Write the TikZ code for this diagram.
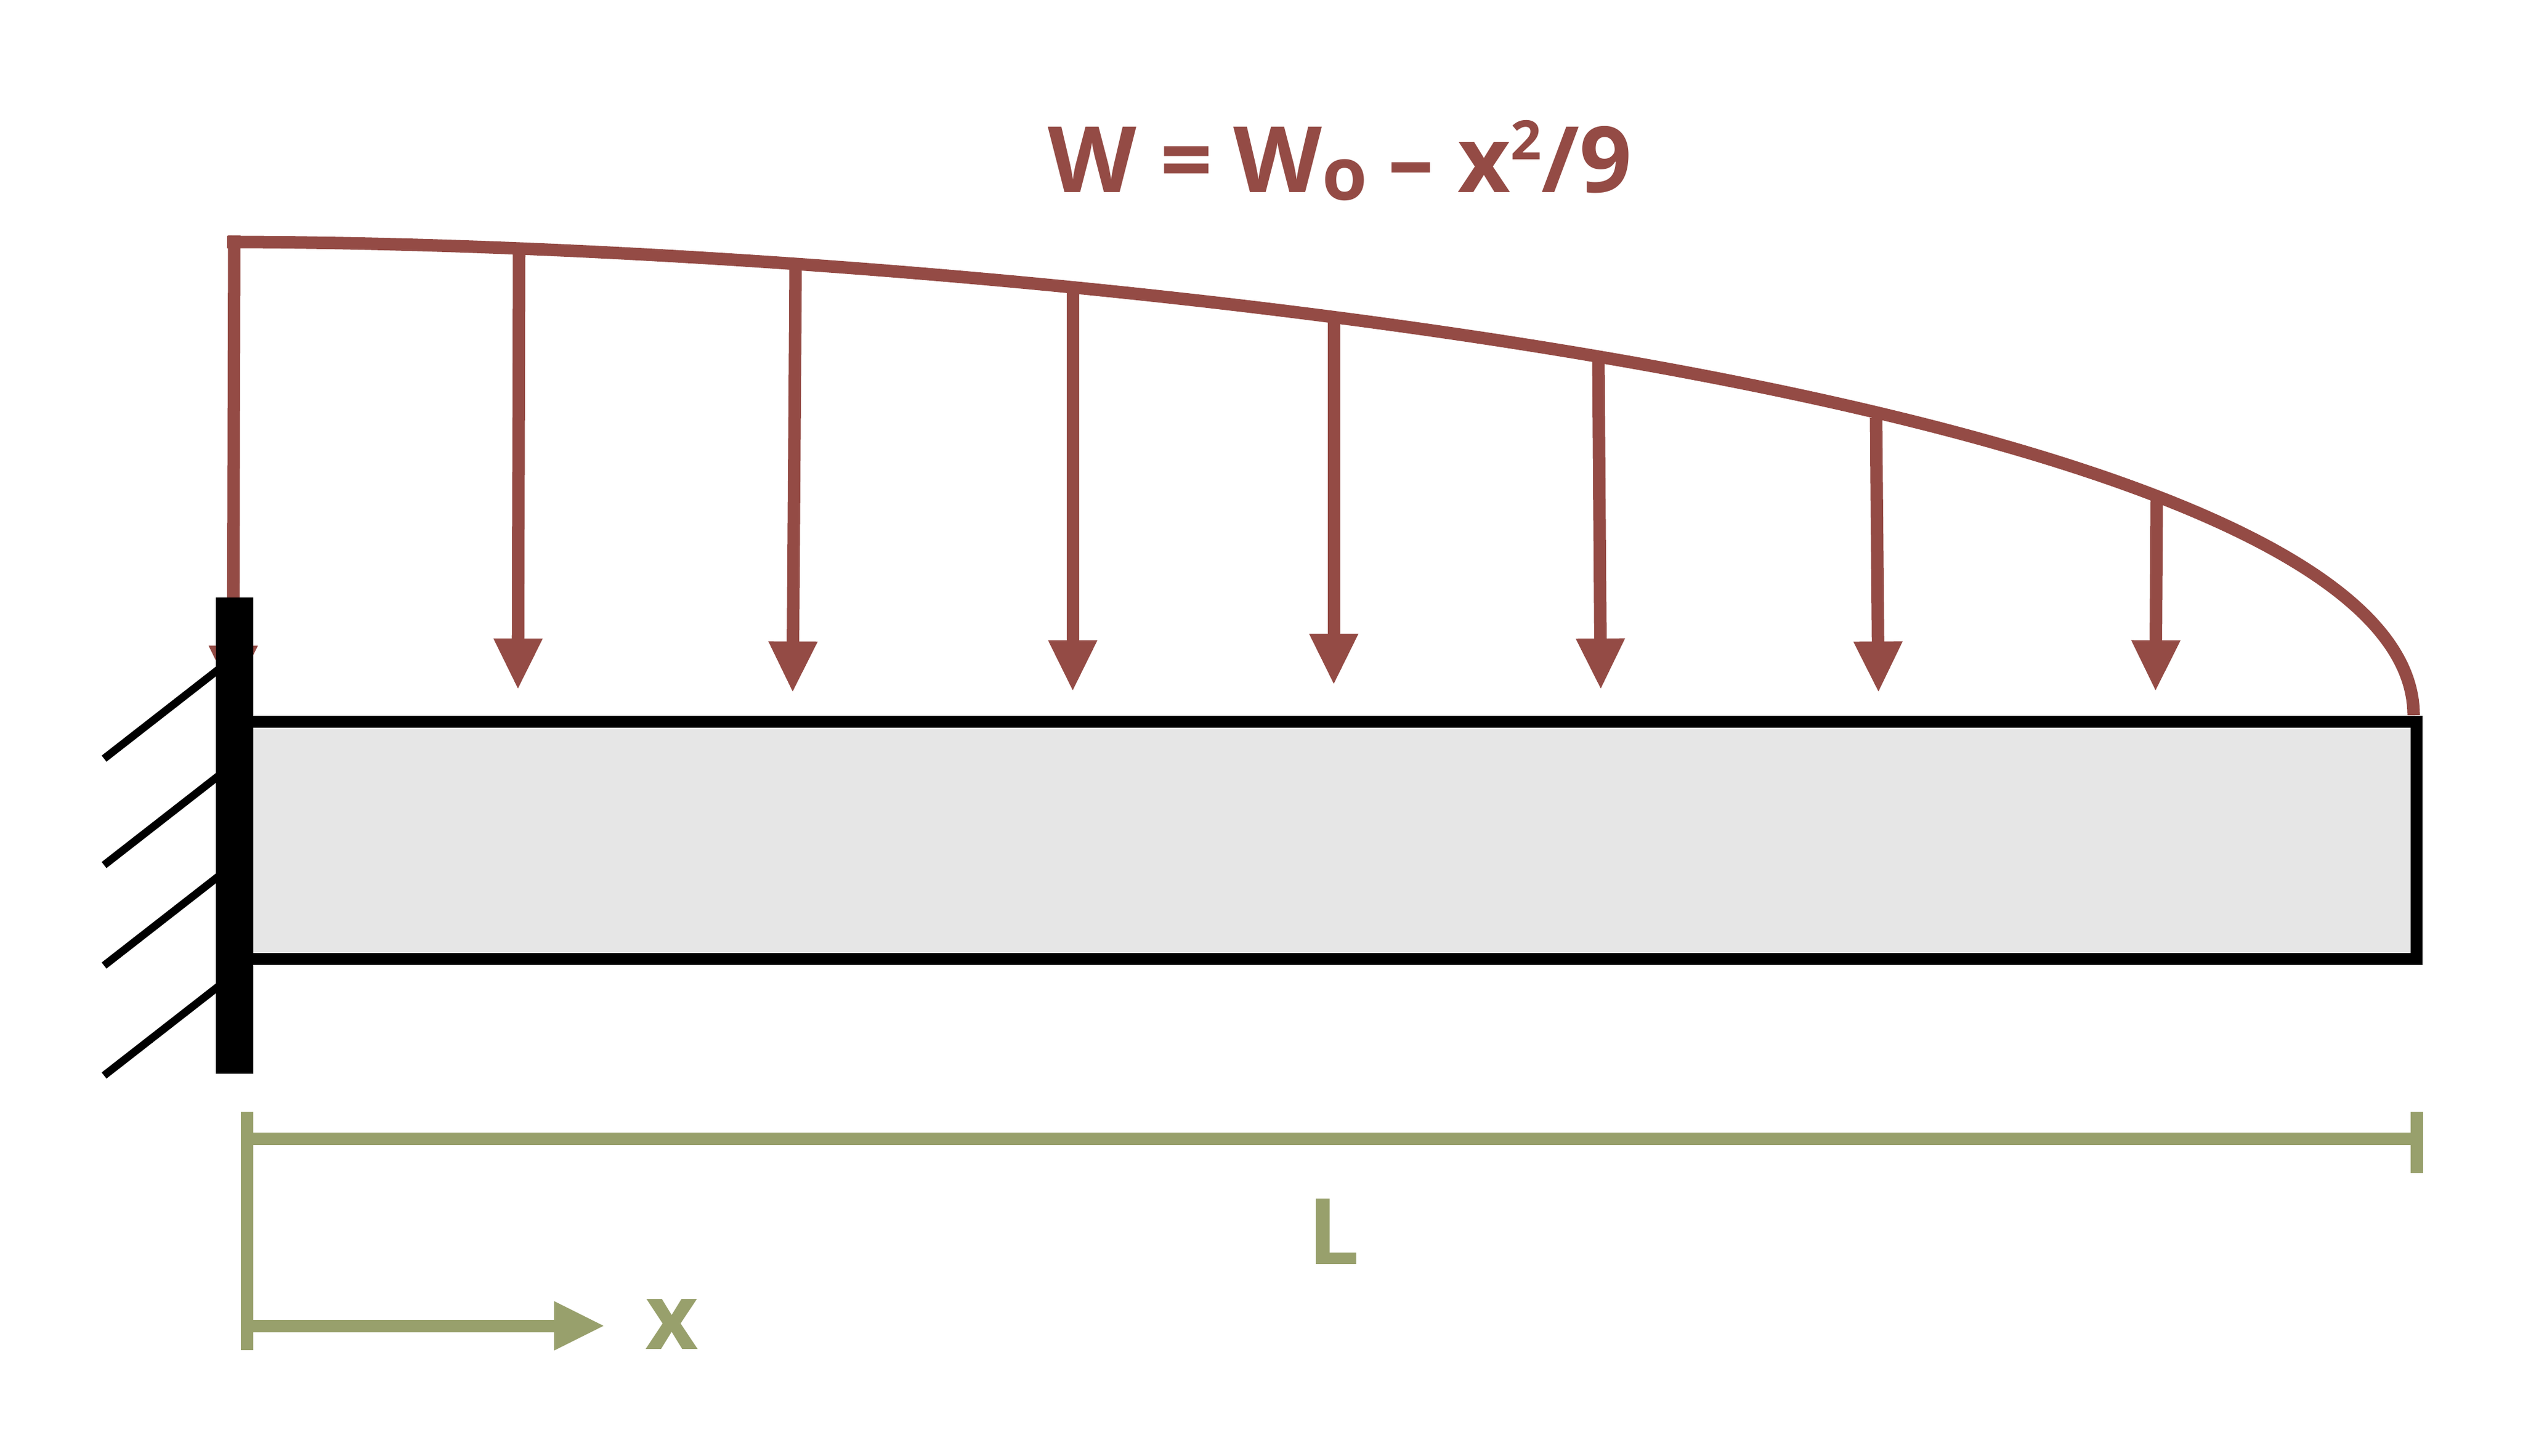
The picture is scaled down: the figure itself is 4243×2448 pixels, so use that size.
\documentclass[tikz,border=0pt]{standalone}
\usepackage{fontspec}
\setmainfont{Open Sans}[BoldFont={Open Sans Bold}]
\usetikzlibrary{arrows.meta}
\definecolor{loadred}{HTML}{944B45}
\definecolor{dimgreen}{HTML}{98A06C}
\definecolor{beamgray}{HTML}{E6E6E6}
\newcommand{\bigsize}{\fontsize{43.8pt}{50pt}\selectfont\bfseries}
\tikzset{
  loadline/.style={draw=loadred,line width=0.21cm},
  loadarrow/.style={loadline,-{Triangle[length=0.84cm,width=0.83cm,line width=0pt,fill=loadred]}},
  dimline/.style={draw=dimgreen,line width=0.21cm},
  dimarrow/.style={dimline,-{Triangle[length=0.83cm,width=0.83cm,line width=0pt,fill=dimgreen]}},
  hatchline/.style={draw=black,line width=0.13cm},
  txt/.style={inner sep=0pt,anchor=base west,font=\bigsize}
}
\begin{document}
\begin{tikzpicture}[x=0.01cm,y=-0.01cm]
\useasboundingbox (0,0) rectangle (4243,2448);
% load curve
\coordinate (c0) at (382,407);
\coordinate (c1) at (1630,408);
\coordinate (c2) at (4059,655);
\coordinate (c3) at (4059,1203);
\draw[loadline] (c0) .. controls (c1) and (c2) .. (c3);
% load arrows
\foreach \n/\xa/\ya/\xb/\yb in {
 a/394/396/392/1170, b/873/425/871/1158, c/1338/450/1333/1163, d/1804/490/1804/1161,
 e/2243/534/2243/1150, f/2688/603/2692/1158, g/3155/703/3159/1163, h/3627/836/3625/1161}{
  \coordinate (\n top) at (\xa,\ya);
  \coordinate (\n tip) at (\xb,\yb);
  \draw[loadarrow] (\n top) -- (\n tip);
}
% beam
\draw[fill=beamgray,draw=black,line width=0.205cm] (415,1214) rectangle (4064,1613);
% hatch lines
\foreach \n/\ya/\yb in {p/1276/1124, q/1455/1303, r/1624/1472, s/1809/1657}{
  \coordinate (\n l) at (175,\ya);
  \coordinate (\n r) at (370,\yb);
  \draw[hatchline] (\n l) -- (\n r);
}
% wall
\fill[black] (363,1005) rectangle (426,1806);
% dimensions
\draw[dimline] (415.5,1870) -- (415.5,2271);
\draw[dimline] (4064,1870) -- (4064,1973);
\draw[dimline] (415,1915.5) -- (4064,1915.5);
\coordinate (xs) at (415,2230);
\coordinate (xe) at (1015,2230);
\draw[dimarrow] (xs) -- (xe);
% texts
\node[txt,text=dimgreen] (xlab) at (1085,2269) {x};
\node[txt,text=dimgreen] (Llab) at (2199,2126) {L};
\node[txt,text=loadred] (title) at (1762,323) {W = \kern-0.05cm W\raisebox{-0.13cm}{\fontsize{35pt}{40pt}\selectfont o}\kern-0.05cm{} – x\raisebox{0.54cm}{\fontsize{26pt}{30pt}\selectfont 2}/9};
\end{tikzpicture}
\end{document}
